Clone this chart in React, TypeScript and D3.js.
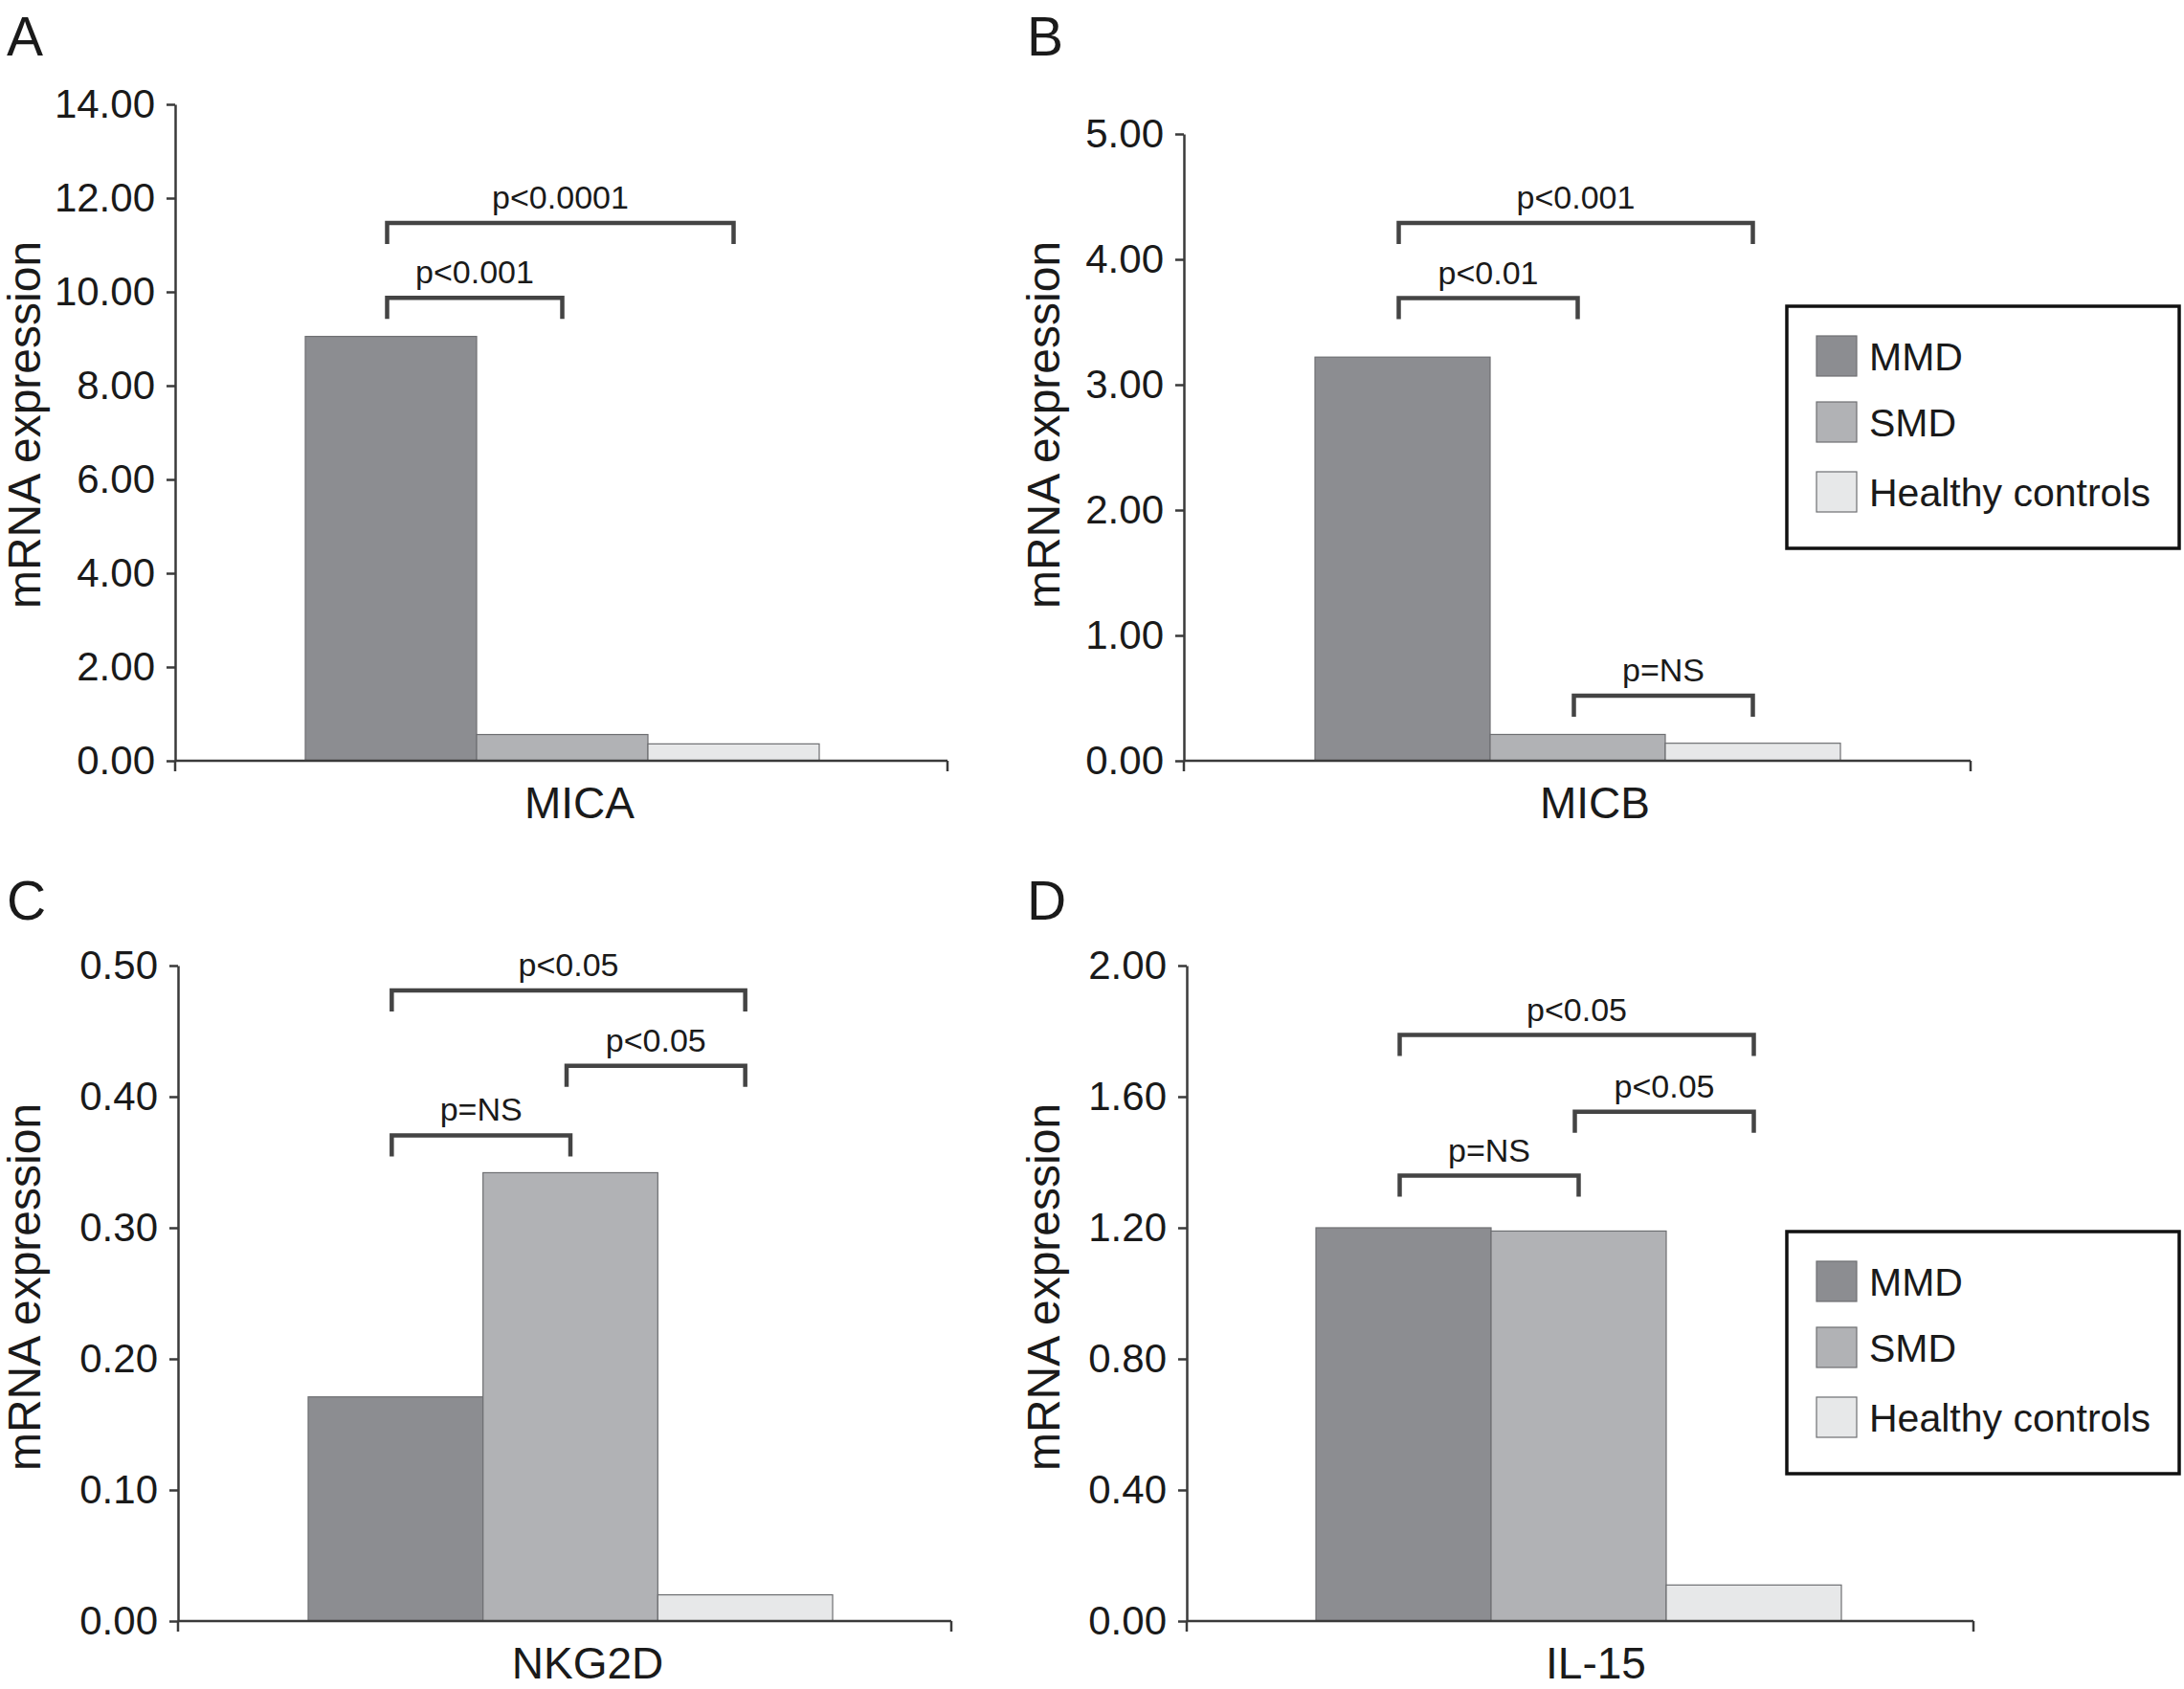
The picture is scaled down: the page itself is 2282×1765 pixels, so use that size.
import { useEffect, useRef } from "react"
import * as d3 from "d3"

// groups and genes
const groups = ["MMD", "SMD", "Healthy controls"]
const genes = ["MICA", "MICB", "NKG2D", "IL-15"]
const panelLetters = ["A", "B", "C", "D"]

// mean mRNA expression per group
const micaValues = [9.05, 0.56, 0.36]
const micbValues = [3.22, 0.21, 0.14]
const nkg2dValues = [0.171, 0.342, 0.02]
const il15Values = [1.2, 1.19, 0.11]

// y axis ticks
const micaTicks = [0, 2, 4, 6, 8, 10, 12, 14]
const micbTicks = [0, 1, 2, 3, 4, 5]
const nkg2dTicks = [0, 0.1, 0.2, 0.3, 0.4, 0.5]
const il15Ticks = [0, 0.4, 0.8, 1.2, 1.6, 2.0]

// significance brackets (group index from/to, height in data units)
const micaBrackets = [
  { from: 0, to: 1, y: 9.87, label: "p<0.001" },
  { from: 0, to: 2, y: 11.47, label: "p<0.0001" },
]
const micbBrackets = [
  { from: 0, to: 1, y: 3.69, label: "p<0.01" },
  { from: 0, to: 2, y: 4.29, label: "p<0.001" },
  { from: 1, to: 2, y: 0.52, label: "p=NS" },
]
const nkg2dBrackets = [
  { from: 0, to: 1, y: 0.3705, label: "p=NS" },
  { from: 1, to: 2, y: 0.4236, label: "p<0.05" },
  { from: 0, to: 2, y: 0.481, label: "p<0.05" },
]
const il15Brackets = [
  { from: 0, to: 1, y: 1.359, label: "p=NS" },
  { from: 1, to: 2, y: 1.554, label: "p<0.05" },
  { from: 0, to: 2, y: 1.788, label: "p<0.05" },
]

const colors = ["#8c8d91", "#b1b2b5", "#e7e8e9"]
const font = "'Liberation Sans', Arial, Helvetica, sans-serif"

const W = 2282
const H = 1765

export default function App() {
  const svgRef = useRef<SVGSVGElement | null>(null)

  useEffect(() => {
    if (!svgRef.current) return
    const svg = d3.select(svgRef.current)
    svg.selectAll("*").remove()

    const panels = [
      { values: micaValues, ticks: micaTicks, brackets: micaBrackets, left: 183, right: 990, top: 109, bottom: 795, barL: 319, barR: 856, lx: 7, ly: 58, yLabX: 42, yLabY: 444, legend: null as null | { x: number; y: number } },
      { values: micbValues, ticks: micbTicks, brackets: micbBrackets, left: 1237, right: 2059, top: 140, bottom: 795, barL: 1374, barR: 1923, lx: 1073, ly: 58, yLabX: 1107, yLabY: 444, legend: { x: 1867, y: 320 } },
      { values: nkg2dValues, ticks: nkg2dTicks, brackets: nkg2dBrackets, left: 186, right: 994, top: 1009, bottom: 1694, barL: 322, barR: 870, lx: 7, ly: 961, yLabX: 42, yLabY: 1345, legend: null },
      { values: il15Values, ticks: il15Ticks, brackets: il15Brackets, left: 1240, right: 2062, top: 1009, bottom: 1694, barL: 1375, barR: 1924, lx: 1073, ly: 961, yLabX: 1107, yLabY: 1345, legend: { x: 1867, y: 1287 } },
    ]

    panels.forEach((p, i) => {
      const g = svg.append("g")

      const x = d3.scaleBand().domain(groups).range([p.barL, p.barR]).padding(0)
      const y = d3
        .scaleLinear()
        .domain([0, p.ticks[p.ticks.length - 1]])
        .range([p.bottom, p.top])

      // panel letter
      g.append("text")
        .attr("x", p.lx)
        .attr("y", p.ly)
        .attr("font-size", 57)
        .attr("font-family", font)
        .attr("fill", "#1a1a1a")
        .text(panelLetters[i])

      // bars
      g.selectAll(".bar")
        .data(p.values)
        .enter()
        .append("rect")
        .attr("x", (_d, j) => x(groups[j]) as number)
        .attr("y", (d) => y(d))
        .attr("width", x.bandwidth())
        .attr("height", (d) => p.bottom - y(d))
        .attr("fill", (_d, j) => colors[j])
        .attr("stroke", "#6e6f72")
        .attr("stroke-width", 1.2)

      // y axis
      const yAxis = g
        .append("g")
        .attr("transform", `translate(${p.left},0)`)
        .call(
          d3
            .axisLeft(y)
            .tickValues(p.ticks)
            .tickSize(9)
            .tickSizeOuter(0)
            .tickPadding(12)
            .tickFormat(d3.format(".2f"))
        )
      yAxis.select(".domain").attr("stroke", "#3a3a3a").attr("stroke-width", 2.5)
      yAxis.selectAll(".tick line").attr("stroke", "#3a3a3a").attr("stroke-width", 2.5)
      yAxis
        .selectAll(".tick text")
        .attr("font-size", 42)
        .attr("font-family", font)
        .attr("fill", "#1a1a1a")

      // x axis
      g.append("line")
        .attr("x1", p.left)
        .attr("x2", p.right)
        .attr("y1", p.bottom)
        .attr("y2", p.bottom)
        .attr("stroke", "#3a3a3a")
        .attr("stroke-width", 2.5)
      ;[p.left, p.right].forEach((xx) => {
        g.append("line")
          .attr("x1", xx)
          .attr("x2", xx)
          .attr("y1", p.bottom)
          .attr("y2", p.bottom + 11)
          .attr("stroke", "#3a3a3a")
          .attr("stroke-width", 2.5)
      })

      // category label
      g.append("text")
        .attr("x", (p.barL + p.barR) / 2 + 18)
        .attr("y", p.bottom + 60)
        .attr("text-anchor", "middle")
        .attr("font-size", 46)
        .attr("font-family", font)
        .attr("fill", "#1a1a1a")
        .text(genes[i])

      // y axis title
      g.append("text")
        .attr("transform", `translate(${p.yLabX},${p.yLabY}) rotate(-90)`)
        .attr("text-anchor", "middle")
        .attr("font-size", 48)
        .attr("font-family", font)
        .attr("fill", "#1a1a1a")
        .text("mRNA expression")

      // significance brackets
      p.brackets.forEach((b) => {
        const x1 = (x(groups[b.from]) as number) + x.bandwidth() / 2 - 4
        const x2 = (x(groups[b.to]) as number) + x.bandwidth() / 2
        const yy = y(b.y)
        g.append("path")
          .attr("d", `M${x1},${yy + 22}V${yy}H${x2}V${yy + 22}`)
          .attr("fill", "none")
          .attr("stroke", "#444")
          .attr("stroke-width", 4.5)
        g.append("text")
          .attr("x", (x1 + x2) / 2)
          .attr("y", yy - 15)
          .attr("text-anchor", "middle")
          .attr("font-size", 34)
          .attr("font-family", font)
          .attr("fill", "#1a1a1a")
          .text(b.label)
      })

      // legend
      if (p.legend) {
        const lg = g.append("g").attr("transform", `translate(${p.legend.x},${p.legend.y})`)
        lg.append("rect")
          .attr("width", 410)
          .attr("height", 253)
          .attr("fill", "white")
          .attr("stroke", "#111")
          .attr("stroke-width", 3.5)
        const rowTop = [31, 100, 173]
        groups.forEach((name, j) => {
          lg.append("rect")
            .attr("x", 31)
            .attr("y", rowTop[j])
            .attr("width", 42)
            .attr("height", 42)
            .attr("fill", colors[j])
            .attr("stroke", "#6e6f72")
            .attr("stroke-width", 1.2)
          lg.append("text")
            .attr("x", 86)
            .attr("y", rowTop[j] + 21)
            .attr("dy", "0.36em")
            .attr("font-size", 41)
            .attr("font-family", font)
            .attr("fill", "#1a1a1a")
            .text(name)
        })
      }
    })
  }, [])

  return (
    <svg
      ref={svgRef}
      width={W}
      height={H}
      style={{ position: "absolute", left: 0, top: 0, background: "white" }}
    ></svg>
  )
}
